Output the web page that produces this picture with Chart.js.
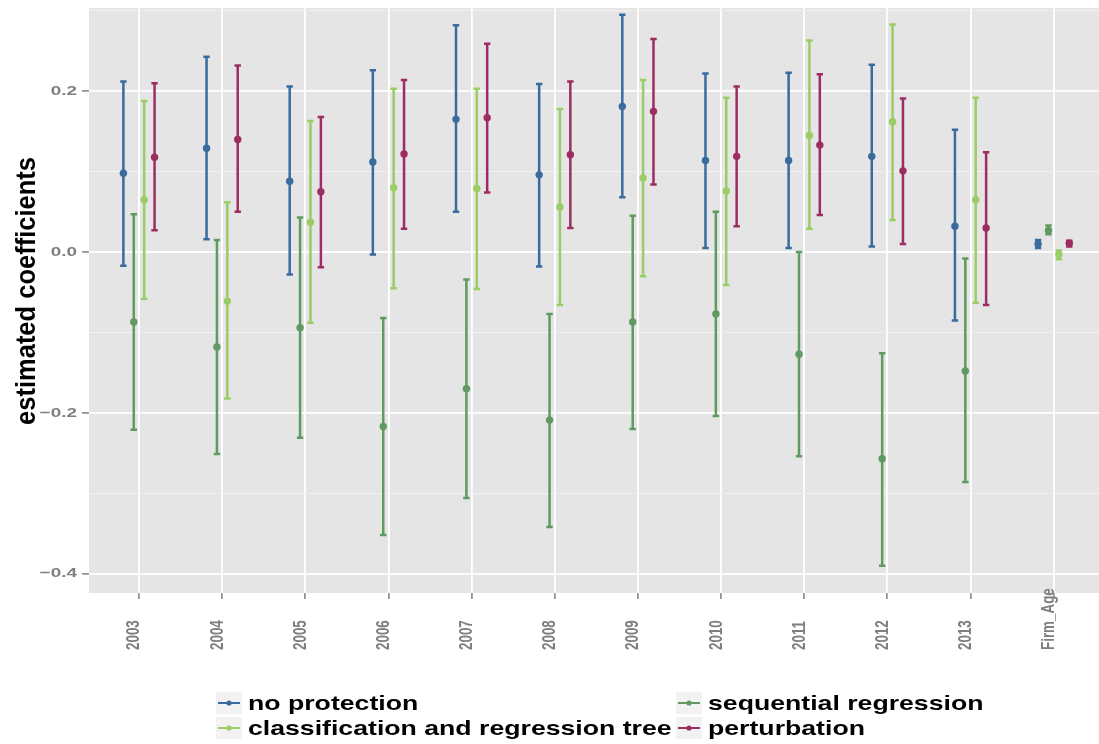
<!DOCTYPE html>
<html>
<head>
<meta charset="utf-8">
<title>estimated coefficients</title>
<script src="https://cdn.jsdelivr.net/npm/chart.js@4.4.1/dist/chart.umd.min.js"></script>
<style>
  html, body { margin: 0; padding: 0; background: #fff; }
  #wrap { position: relative; width: 1099px; height: 744px; }
</style>
</head>
<body>
<div id="wrap"><canvas id="coef-chart" width="1099" height="744"></canvas></div>
<script>
// coefficient estimates (point, lower, upper) per year dummy + Firm_Age
const categories = ['2003', '2004', '2005', '2006', '2007', '2008', '2009', '2010', '2011', '2012', '2013', 'Firm_Age'];

const noProtEst = [0.098, 0.129, 0.088, 0.112, 0.165, 0.096, 0.181, 0.114, 0.114, 0.119, 0.032, 0.010];
const noProtLo  = [-0.017, 0.016, -0.028, -0.003, 0.050, -0.018, 0.068, 0.005, 0.005, 0.007, -0.085, 0.005];
const noProtHi  = [0.212, 0.243, 0.206, 0.226, 0.282, 0.209, 0.295, 0.222, 0.223, 0.233, 0.152, 0.015];

const seqRegEst = [-0.087, -0.118, -0.094, -0.217, -0.170, -0.209, -0.087, -0.077, -0.127, -0.257, -0.148, 0.027];
const seqRegLo  = [-0.221, -0.251, -0.231, -0.352, -0.306, -0.342, -0.220, -0.204, -0.254, -0.390, -0.286, 0.022];
const seqRegHi  = [0.047, 0.015, 0.043, -0.082, -0.034, -0.077, 0.045, 0.050, 0.000, -0.126, -0.008, 0.033];

const cartEst = [0.065, -0.061, 0.037, 0.080, 0.079, 0.056, 0.092, 0.076, 0.145, 0.162, 0.065, -0.003];
const cartLo  = [-0.058, -0.182, -0.088, -0.045, -0.046, -0.066, -0.030, -0.041, 0.029, 0.040, -0.063, -0.009];
const cartHi  = [0.188, 0.062, 0.163, 0.203, 0.203, 0.178, 0.214, 0.192, 0.263, 0.283, 0.192, 0.002];

const pertEst = [0.118, 0.140, 0.075, 0.122, 0.167, 0.121, 0.175, 0.119, 0.133, 0.101, 0.030, 0.011];
const pertLo  = [0.027, 0.050, -0.019, 0.029, 0.074, 0.030, 0.084, 0.032, 0.046, 0.010, -0.066, 0.007];
const pertHi  = [0.210, 0.232, 0.168, 0.214, 0.259, 0.212, 0.265, 0.206, 0.221, 0.191, 0.124, 0.014];

const yMajorTicks = [-0.4, -0.2, 0, 0.2];
const yMinorTicks = [-0.3, -0.1, 0.1, 0.3];
const yTickLabels = ['\u22120.4', '\u22120.2', '0.0', '0.2'];

// series in dodge order (left to right inside each year)
const series = [
  { name: 'no protection', color: '#3a6b9e', est: noProtEst, lo: noProtLo, hi: noProtHi },
  { name: 'sequential regression', color: '#5f9a60', est: seqRegEst, lo: seqRegLo, hi: seqRegHi },
  { name: 'classification and regression tree', color: '#9bcd66', est: cartEst, lo: cartLo, hi: cartHi },
  { name: 'perturbation', color: '#9c2c61', est: pertEst, lo: pertLo, hi: pertHi }
];
const dodge = [-0.1875, -0.0625, 0.0625, 0.1875];

const FONT = '"Liberation Sans", Arial, Helvetica, sans-serif';
const GREY = '#7f7f7f';

const isMajor = v => Math.round(v * 10) % 2 === 0;

// grey panel behind the grid
const panelBg = {
  id: 'panelBg',
  beforeDraw(chart) {
    const { ctx, chartArea: a } = chart;
    ctx.save();
    ctx.fillStyle = '#e5e5e5';
    ctx.fillRect(a.left, a.top, a.right - a.left, a.bottom - a.top);
    ctx.restore();
  }
};

// vertical interval lines with small caps
const errorBars = {
  id: 'errorBars',
  beforeDatasetsDraw(chart) {
    const { ctx } = chart;
    const xs = chart.scales.x, ys = chart.scales.y;
    ctx.save();
    series.forEach((s, si) => {
      ctx.strokeStyle = s.color;
      ctx.lineWidth = 2.5;
      s.est.forEach((_, i) => {
        const x = xs.getPixelForValue(i + 1 + dodge[si]);
        const y1 = ys.getPixelForValue(s.lo[i]);
        const y2 = ys.getPixelForValue(s.hi[i]);
        ctx.beginPath();
        ctx.moveTo(x, y1); ctx.lineTo(x, y2);
        ctx.moveTo(x - 3.2, y1); ctx.lineTo(x + 3.2, y1);
        ctx.moveTo(x - 3.2, y2); ctx.lineTo(x + 3.2, y2);
        ctx.stroke();
      });
    });
    ctx.restore();
  }
};

function stretchedText(ctx, text, x, y, sx, rot, align, baseline) {
  ctx.save();
  ctx.translate(x, y);
  ctx.scale(sx, 1);
  if (rot) ctx.rotate(rot);
  ctx.textAlign = align;
  ctx.textBaseline = baseline;
  ctx.fillText(text, 0, 0);
  ctx.restore();
}

// tick labels, axis title and the two-column legend
const labelsAndLegend = {
  id: 'labelsAndLegend',
  afterDraw(chart) {
    const { ctx } = chart;
    const xs = chart.scales.x, ys = chart.scales.y;
    ctx.save();
    ctx.fillStyle = GREY;
    ctx.font = 'bold 13.5px ' + FONT;
    yMajorTicks.forEach((v, i) => {
      stretchedText(ctx, yTickLabels[i], 77, ys.getPixelForValue(v), 1.4, 0, 'right', 'middle');
    });
    ctx.font = 'bold 13.4px ' + FONT;
    categories.forEach((c, i) => {
      stretchedText(ctx, c, xs.getPixelForValue(i + 1) + 0.5, 650, 1.4, -Math.PI / 2, 'left', 'alphabetic');
    });

    ctx.fillStyle = '#000';
    ctx.font = 'bold 25.5px ' + FONT;
    stretchedText(ctx, 'estimated coefficients', 35, 291, 1.05, -Math.PI / 2, 'center', 'alphabetic');

    // legend: column-major, two rows
    const cols = [216, 676];
    const rows = [692, 717];
    const order = [0, 2, 1, 3];
    ctx.font = 'bold 20.5px ' + FONT;
    order.forEach((si, k) => {
      const s = series[si];
      const kx = cols[Math.floor(k / 2)], ky = rows[k % 2];
      ctx.fillStyle = '#f2f2f2';
      ctx.fillRect(kx, ky, 26, 22);
      ctx.strokeStyle = s.color;
      ctx.lineWidth = 2;
      ctx.beginPath();
      ctx.moveTo(kx + 2, ky + 11); ctx.lineTo(kx + 24, ky + 11);
      ctx.stroke();
      ctx.fillStyle = s.color;
      ctx.beginPath();
      ctx.arc(kx + 13, ky + 11, 2.6, 0, Math.PI * 2);
      ctx.fill();
      ctx.fillStyle = '#000';
      stretchedText(ctx, s.name, kx + 32, ky + 18, 1.3, 0, 'left', 'alphabetic');
    });
    ctx.restore();
  }
};

new Chart(document.getElementById('coef-chart'), {
  type: 'scatter',
  data: {
    datasets: series.map((s, si) => ({
      label: s.name,
      data: s.est.map((v, i) => ({ x: i + 1 + dodge[si], y: v })),
      backgroundColor: s.color,
      borderColor: s.color,
      borderWidth: 0,
      pointRadius: 3.7
    }))
  },
  options: {
    responsive: false,
    animation: false,
    layout: { autoPadding: false, padding: { top: 8, left: 0, right: 0, bottom: 0 } },
    plugins: { legend: { display: false }, tooltip: { enabled: false } },
    scales: {
      x: {
        type: 'linear',
        min: 0.399,
        max: 12.545,
        afterBuildTicks: s => { s.ticks = categories.map((c, i) => ({ value: i + 1 })); },
        afterFit: s => { s.height = 151; s.paddingLeft = 0; s.paddingRight = 0; },
        border: { display: false },
        grid: { color: '#ffffff', lineWidth: 1.8, tickLength: 6, tickColor: GREY, tickWidth: 1.5 },
        ticks: { display: false }
      },
      y: {
        min: -0.424,
        max: 0.3035,
        afterBuildTicks: s => {
          s.ticks = yMajorTicks.concat(yMinorTicks).map(v => ({ value: v }));
        },
        afterFit: s => { s.width = 89; s.paddingTop = 0; s.paddingBottom = 0; },
        border: { display: false },
        grid: {
          color: c => isMajor(c.tick.value) ? '#ffffff' : '#f2f2f2',
          lineWidth: c => isMajor(c.tick.value) ? 1.8 : 1,
          tickColor: c => isMajor(c.tick.value) ? GREY : 'rgba(0,0,0,0)',
          tickLength: 7,
          tickWidth: 1.5
        },
        ticks: { display: false }
      }
    }
  },
  plugins: [panelBg, errorBars, labelsAndLegend]
});
</script>
</body>
</html>
